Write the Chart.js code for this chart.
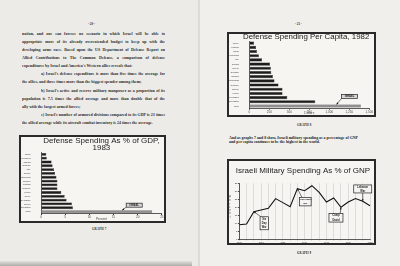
<!DOCTYPE html>
<html>
<head>
<meta charset="utf-8">
<script src="https://cdn.jsdelivr.net/npm/chart.js@4.4.0/dist/chart.umd.min.js"></script>
<style>
  html, body { margin: 0; padding: 0; width: 400px; height: 266px; overflow: hidden; background: #ecebe8; }
  #page { position: relative; width: 400px; height: 266px; }
  .pg { position: absolute; top: 0; height: 266px; }
  .serif { position: absolute; font-family: "Liberation Serif", serif; font-weight: bold; color: #2a2a2a; }
  .ln { position: absolute; left: 22px; width: 143px; height: 5px; line-height: 5px; font-size: 4px;
        font-family: "Liberation Serif", serif; font-weight: bold; color: #2e2e2e; overflow: hidden; }
  .ln.j { text-align: justify; text-align-last: justify; }
  .ln.ind { left: 41px; width: 124px; }
  .box { position: absolute; box-sizing: border-box; border: 2px solid #2a2a2a; background: #f6f5f2; }
  .box canvas { display: block; }
  .cap { position: absolute; font-family: "Liberation Serif", serif; font-weight: bold; font-size: 3px;
         letter-spacing: 0.2px; color: #222; }
  #pct { position: absolute; left: 228px; top: 196px; width: 4px; font-family: "Liberation Sans", sans-serif;
         font-size: 2.6px; line-height: 3.3px; text-align: center; color: #333; }
</style>
</head>
<body>
<div id="page">
  <div class="pg" style="left:0;width:198px;background:#edebe8;"></div>
  <div class="pg" style="left:198px;width:2px;background:#dddbd8;"></div>
  <div class="pg" style="left:200px;width:200px;background:#f1efec;"></div>
  <div style="position:absolute;left:0;top:261px;width:192px;height:5px;background:linear-gradient(#e4e2df,#aeaca9);"></div>

  <div class="serif" style="left:88px;top:22px;font-size:3.2px;">- 20 -</div>
  <div class="serif" style="left:295px;top:22px;font-size:3.2px;">- 21 -</div>

  <div class="ln j" style="top:31px;">nation, and one can foresee no scenario in which Israel will be able to</div>
  <div class="ln j" style="top:39px;">appropriate more of its already overextended budget to keep up with the</div>
  <div class="ln j" style="top:47px;">developing arms race. Based upon the US Department of Defense <u>Report on</u></div>
  <div class="ln j" style="top:55px;"><u>Allied Contributions to The Common Defense</u>, a comparison of defense</div>
  <div class="ln" style="top:63px;">expenditures by Israel and America's Western allies reveals that:</div>
  <div class="ln j ind" style="top:71px;">a) Israel's defense expenditure is more than five times the average for</div>
  <div class="ln" style="top:79px;">the allies, and three times more than the biggest spender among them;</div>
  <div class="ln j ind" style="top:88px;">b) Israel's active and reserve military manpower as a proportion of its</div>
  <div class="ln j" style="top:96px;">population is 7.5 times the allied average and more than double that of the</div>
  <div class="ln" style="top:104px;">ally with the largest armed forces;</div>
  <div class="ln j ind" style="top:112px;">c) Israel's number of armored divisions compared to its GDP is 23 times</div>
  <div class="ln" style="top:120px;">the allied average while its aircraft combat inventory is 24 times the average.</div>

  <div class="box" style="left:19px;top:135px;width:147px;height:88px;"><canvas id="gdp" width="143" height="84"></canvas></div>
  <div class="cap" style="left:92px;top:227px;">GRAPH 7</div>

  <div class="box" style="left:227px;top:32px;width:149px;height:85px;"><canvas id="capita" width="145" height="81"></canvas></div>
  <div class="cap" style="left:297px;top:123px;">GRAPH 8</div>

  <div class="serif" style="left:229px;top:135.5px;font-size:3.9px;line-height:4.2px;color:#222;">And as graphs 7 and 8 show, Israeli military spending as a percentage of GNP<br>and per capita continues to be the highest in the world.</div>

  <div class="box" style="left:227px;top:159px;width:149px;height:86px;"><canvas id="gnp" width="145" height="82"></canvas></div>
  <div id="pct">P<br>e<br>r<br>c<br>e<br>n<br>t</div>
  <div class="cap" style="left:297px;top:251px;">GRAPH 9</div>
</div>

<script>
const gdpCountries = ['Japan', 'Luxembourg', 'Canada', 'Denmark', 'Italy', 'Norway', 'Netherlands', 'Belgium',
  'Portugal', 'Germany', 'France', 'Turkey', 'United Kingdom', 'Greece', 'United States', 'Israel'];
const gdpPercent = [1.1, 1.2, 2.2, 2.4, 2.7, 2.9, 3.2, 3.4, 3.4, 3.4, 4.2, 4.9, 5.3, 6.4, 6.6, 23.0];

const capitaCountries = ['Turkey', 'Portugal', 'Japan', 'Luxembourg', 'Italy', 'Canada', 'Greece', 'Denmark',
  'Belgium', 'Netherlands', 'Germany', 'Norway', 'France', 'United Kingdom', 'United States', 'Israel'];
const capitaDollars = [60, 85, 95, 120, 160, 260, 270, 275, 295, 315, 365, 415, 415, 475, 825, 1395];

const gnpYears = [1965, 1966, 1967, 1968, 1969, 1970, 1971, 1972, 1973, 1974, 1975, 1976, 1977, 1978, 1979,
  1980, 1981, 1982, 1983];
const gnpPercent = [9.3, 9.7, 17.4, 18.4, 19.5, 25.5, 23.0, 20.5, 31.7, 30.4, 33.5, 29.4, 23.4, 25.9, 20.1,
  23.4, 25.5, 23.8, 21.1];

const sans = '"Liberation Sans", Arial, sans-serif';
const barFill = '#1d1d1d';
const israelFill = '#8f8f8f';
const ink = '#333';

// boxed labels with an arrow to a bar or point
const calloutPlugin = {
  id: 'callouts',
  afterDatasetsDraw(chart, args, opts) {
    const ctx = chart.ctx;
    const meta = chart.getDatasetMeta(0);
    (opts.items || []).forEach(c => {
      const el = meta.data[c.index];
      let ax, ay;
      if (chart.options.indexAxis === 'y') {
        ax = chart.scales.x.getPixelForValue(c.value);
        ay = el.y - el.height / 2;
      } else {
        ax = el.x;
        ay = el.y;
      }
      const bx = ax + c.dx - c.w / 2;
      const by = ay + c.dy - c.h / 2;
      const sx = bx + c.w * c.fx;
      const sy = by + c.h * c.fy;
      ctx.save();
      ctx.strokeStyle = '#222';
      ctx.lineWidth = 0.6;
      ctx.beginPath();
      ctx.moveTo(sx, sy);
      ctx.lineTo(ax, ay);
      ctx.stroke();
      const ang = Math.atan2(ay - sy, ax - sx);
      ctx.fillStyle = '#111';
      ctx.beginPath();
      ctx.moveTo(ax, ay);
      ctx.lineTo(ax - 2 * Math.cos(ang) + 0.9 * Math.sin(ang), ay - 2 * Math.sin(ang) - 0.9 * Math.cos(ang));
      ctx.lineTo(ax - 2 * Math.cos(ang) - 0.9 * Math.sin(ang), ay - 2 * Math.sin(ang) + 0.9 * Math.cos(ang));
      ctx.closePath();
      ctx.fill();
      ctx.fillStyle = c.fill;
      ctx.fillRect(bx, by, c.w, c.h);
      ctx.lineWidth = 0.7;
      ctx.strokeRect(bx, by, c.w, c.h);
      ctx.fillStyle = '#222';
      ctx.font = 'bold ' + c.size + 'px ' + sans;
      ctx.textAlign = 'center';
      ctx.textBaseline = 'middle';
      const lh = c.h / c.lines.length;
      c.lines.forEach((t, i) => ctx.fillText(t, bx + c.w / 2, by + lh * (i + 0.5)));
      ctx.restore();
    });
  }
};

function barChart(id, labels, values, opt) {
  return new Chart(document.getElementById(id), {
    type: 'bar',
    data: {
      labels: labels,
      datasets: [{
        data: values,
        backgroundColor: labels.map(l => l === 'Israel' ? israelFill : barFill),
        borderColor: labels.map(l => l === 'Israel' ? '#4a4a4a' : barFill),
        borderWidth: 0.5,
        barPercentage: 0.74,
        categoryPercentage: 1
      }]
    },
    options: {
      indexAxis: 'y',
      responsive: false,
      animation: false,
      layout: { padding: { right: opt.padRight } },
      plugins: {
        legend: { display: false },
        tooltip: { enabled: false },
        title: opt.title,
        callouts: { items: opt.callouts }
      },
      scales: {
        x: {
          min: opt.min, max: opt.max,
          ticks: { stepSize: opt.step, font: { family: sans, size: 3 }, color: '#444', padding: 0.5 },
          grid: { drawOnChartArea: false, tickLength: 1.5, color: ink },
          border: { color: ink, width: 0.8 },
          title: { display: true, text: opt.unit, font: { family: sans, size: 3.2 }, color: '#444', padding: 0 },
          afterFit: s => { s.height = opt.xHeight; }
        },
        y: {
          ticks: { autoSkip: false, font: { family: sans, size: 2 }, color: ink, padding: 2.5 },
          grid: { display: false },
          border: { color: ink, width: 0.8 },
          afterFit: s => { s.width = opt.yWidth; }
        }
      }
    },
    plugins: [calloutPlugin]
  });
}

barChart('gdp', gdpCountries, gdpPercent, {
  min: 0, max: 25, step: 5, unit: 'Percent', padRight: 1, xHeight: 7.5, yWidth: 20,
  title: {
    display: true, text: ['Defense Spending As % of GDP,', '1983'], align: 'center', fullSize: false,
    color: '#222', font: { family: sans, size: 8, weight: 'normal', lineHeight: 0.87 },
    padding: { top: 0.6, bottom: 0.9 }
  },
  callouts: [{ index: 15, value: 16.8, dx: 12, dy: -5, w: 16, h: 4, fx: 0, fy: 1, lines: ['ISRAEL'], fill: '#d6d6d6', size: 2.6 }]
});

barChart('capita', capitaCountries, capitaDollars, {
  min: 0, max: 1500, step: 250, unit: 'Dollars', padRight: 4.7, xHeight: 6.9, yWidth: 20.3,
  title: {
    display: true, text: 'Defense Spending Per Capita, 1982', align: 'end',
    color: '#222', font: { family: sans, size: 7.9, weight: 'normal', lineHeight: 0.6 },
    padding: { top: 0.8, bottom: 1.5 }
  },
  callouts: [{ index: 15, value: 1090, dx: 13, dy: -8, w: 16, h: 4, fx: 0, fy: 1, lines: ['ISRAEL'], fill: '#d6d6d6', size: 2.6 }]
});

new Chart(document.getElementById('gnp'), {
  type: 'line',
  data: {
    labels: gnpYears,
    datasets: [{ data: gnpPercent, borderColor: '#111', borderWidth: 1.1, pointRadius: 0, tension: 0, fill: false }]
  },
  options: {
    responsive: false,
    animation: false,
    layout: { padding: { right: 4 } },
    plugins: {
      legend: { display: false },
      tooltip: { enabled: false },
      title: {
        display: true, text: 'Israeli Military Spending As % of GNP', align: 'end',
        color: '#222', font: { family: sans, size: 8, weight: 'normal', lineHeight: 1 },
        padding: { top: 6, bottom: 8.3 }
      },
      callouts: {
        items: [
          { index: 2, dx: 10.4, dy: 11.6, w: 8.3, h: 13, fx: 0.1, fy: 0, lines: ['Six', 'Day', 'War'], fill: '#f4f4f2', size: 2.6 },
          { index: 8, dx: 8, dy: 13, w: 11.5, h: 8.5, fx: 0.2, fy: 0, lines: ['Yom Kippur', 'War'], fill: '#f4f4f2', size: 2.2 },
          { index: 14, dx: -5, dy: 10.5, w: 14, h: 8.5, fx: 0.8, fy: 0, lines: ['Camp', 'David'], fill: '#f4f4f2', size: 2.6 },
          { index: 17, dx: 0, dy: -12.4, w: 18, h: 8, fx: 0.5, fy: 1, lines: ['Lebanon', 'War'], fill: '#f4f4f2', size: 2.6 }
        ]
      }
    },
    scales: {
      x: {
        ticks: {
          autoSkip: false, maxRotation: 0, font: { family: sans, size: 2.2 }, color: ink, padding: 0.3,
          callback: (v, i) => (gnpYears[i] - gnpYears[0]) % 3 === 0 ? String(gnpYears[i]) : ''
        },
        grid: { color: '#c2c2c2', lineWidth: 0.5, tickLength: 1.2 },
        border: { color: ink, width: 0.8 },
        afterFit: s => { s.height = 3.3; }
      },
      y: {
        min: 0, max: 35,
        ticks: { stepSize: 5, font: { family: sans, size: 2.4 }, color: ink, padding: 0.8 },
        grid: { drawOnChartArea: false, tickLength: 1.2, color: ink },
        border: { color: ink, width: 0.8 },
        afterFit: s => { s.width = 10.3; }
      }
    }
  },
  plugins: [calloutPlugin]
});
</script>
</body>
</html>
